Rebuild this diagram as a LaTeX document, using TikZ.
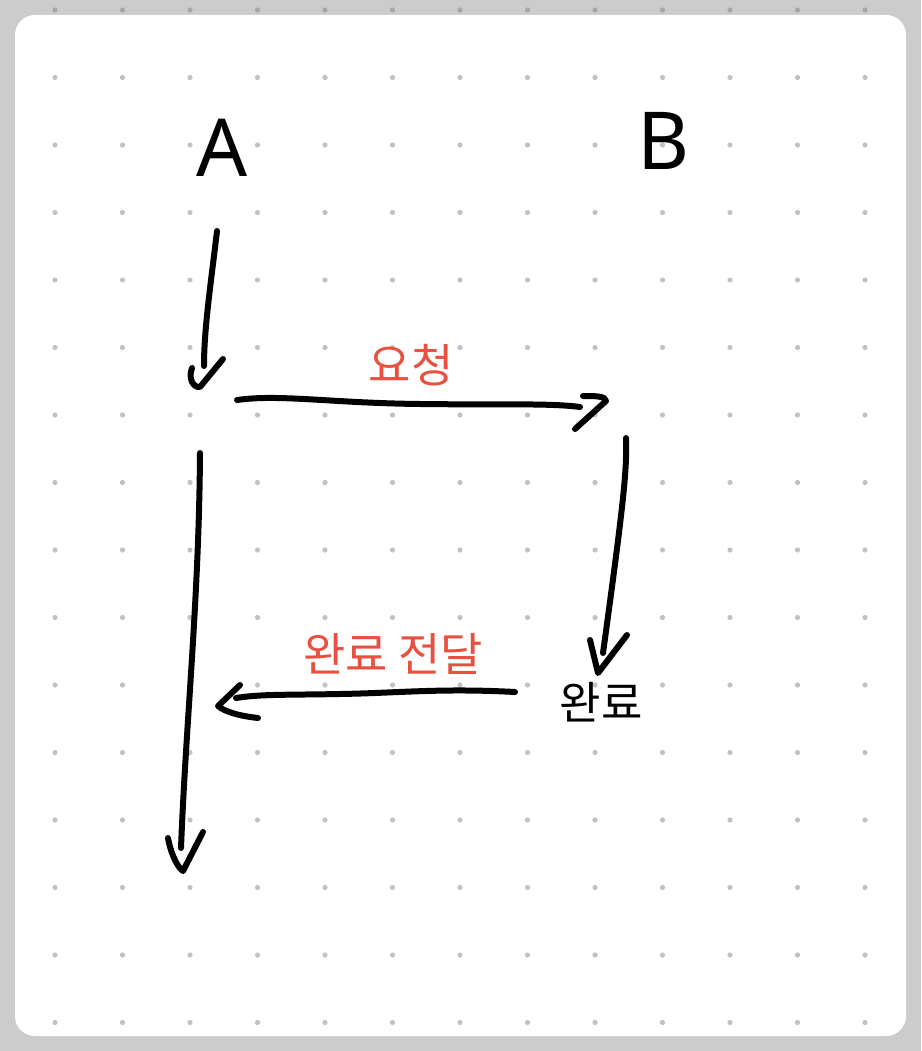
\documentclass[tikz,border=0pt]{standalone}
\usepackage{fontspec}
\newfontfamily\krfont{Noto Sans CJK KR}
\newfontfamily\letterfont{Noto Sans}
\definecolor{bggray}{HTML}{CCCCCC}
\definecolor{dotout}{HTML}{A6A6A6}
\definecolor{dotin}{HTML}{C2C2C2}
\definecolor{labelred}{HTML}{E8513F}
\tikzset{
  ink/.style={line width=6pt, line cap=round, line join=round, draw=black},
  redlabel/.style={font=\krfont\fontsize{46}{54}\selectfont, text=labelred, inner sep=0pt},
  blacklabel/.style={font=\krfont\fontsize{45}{54}\selectfont, text=black, inner sep=0pt},
  bigletter/.style={font=\letterfont\fontsize{80}{90}\selectfont, text=black, inner sep=0pt},
}
\begin{document}
\begin{tikzpicture}[x=1pt,y=-1pt]
\useasboundingbox (0,0) rectangle (921,1051);
\fill[bggray] (0,0) rectangle (921,1051);
\foreach \i in {0,...,12} \fill[dotout] ({55+67.5*\i},10) circle (2.6);
\fill[white, rounded corners=20pt] (15,15) rectangle (906,1036);
\foreach \i in {0,...,12}
  \foreach \j in {1,...,15}
    \fill[dotin] ({55+67.5*\i},{10+67.5*\j}) circle (2.6);

% letters
\node[bigletter] (A) at (222,148) {A};
\node[bigletter] (B) at (663,141) {B};

% labels
\node[redlabel] (req) at (411,365) {요청};
\node[redlabel] (deliver) at (393,654) {완료 전달};
\node[blacklabel] (done) at (601,702) {완료};

% arrow 1: A short down
\coordinate (a1s) at (217,231);
\coordinate (a1e) at (204,366);
\coordinate (a1l) at (192,368);
\coordinate (a1t) at (200,387);
\coordinate (a1r) at (223,359);
\draw[ink] (a1s) .. controls (210,290) and (204,330) .. (a1e);
\draw[ink] (a1l) .. controls (188,378) and (193,388) .. (a1t) -- (a1r);

% arrow 2: request
\coordinate (a2s) at (237,400);
\coordinate (a2e) at (580,407);
\coordinate (a2u) at (583,396);
\coordinate (a2t) at (606,401);
\coordinate (a2d) at (575,429);
\draw[ink] (a2s) .. controls (280,394) and (330,403) .. (420,404) .. controls (500,405) and (550,403) .. (a2e);
\draw[ink] (a2u) .. controls (595,396) and (606,396) .. (a2t) -- (a2d);

% arrow 3: B down
\coordinate (a3s) at (626,438);
\coordinate (a3e) at (603,653);
\coordinate (a3l) at (590,640);
\coordinate (a3t) at (598,673);
\coordinate (a3r) at (627,635);
\draw[ink] (a3s) .. controls (627,470) and (624,500) .. (a3e);
\draw[ink] (a3l) -- (a3t) -- (a3r);

% arrow 4: deliver back
\coordinate (a4s) at (515,692);
\coordinate (a4e) at (236,698);
\coordinate (a4u) at (240,685);
\coordinate (a4t) at (218,706);
\coordinate (a4d) at (258,718);
\draw[ink] (a4s) .. controls (440,688) and (400,693) .. (340,694) .. controls (290,695) and (260,694) .. (a4e);
\draw[ink] (a4u) -- (a4t) .. controls (225,712) and (240,716) .. (a4d);

% arrow 5: long A timeline
\coordinate (a5s) at (200,453);
\coordinate (a5e) at (181,848);
\coordinate (a5l) at (168,838);
\coordinate (a5t) at (183,871);
\coordinate (a5r) at (203,832);
\draw[ink] (a5s) .. controls (199,600) and (186,720) .. (a5e);
\draw[ink] (a5l) .. controls (170,850) and (176,866) .. (a5t) -- (a5r);
\end{tikzpicture}
\end{document}
